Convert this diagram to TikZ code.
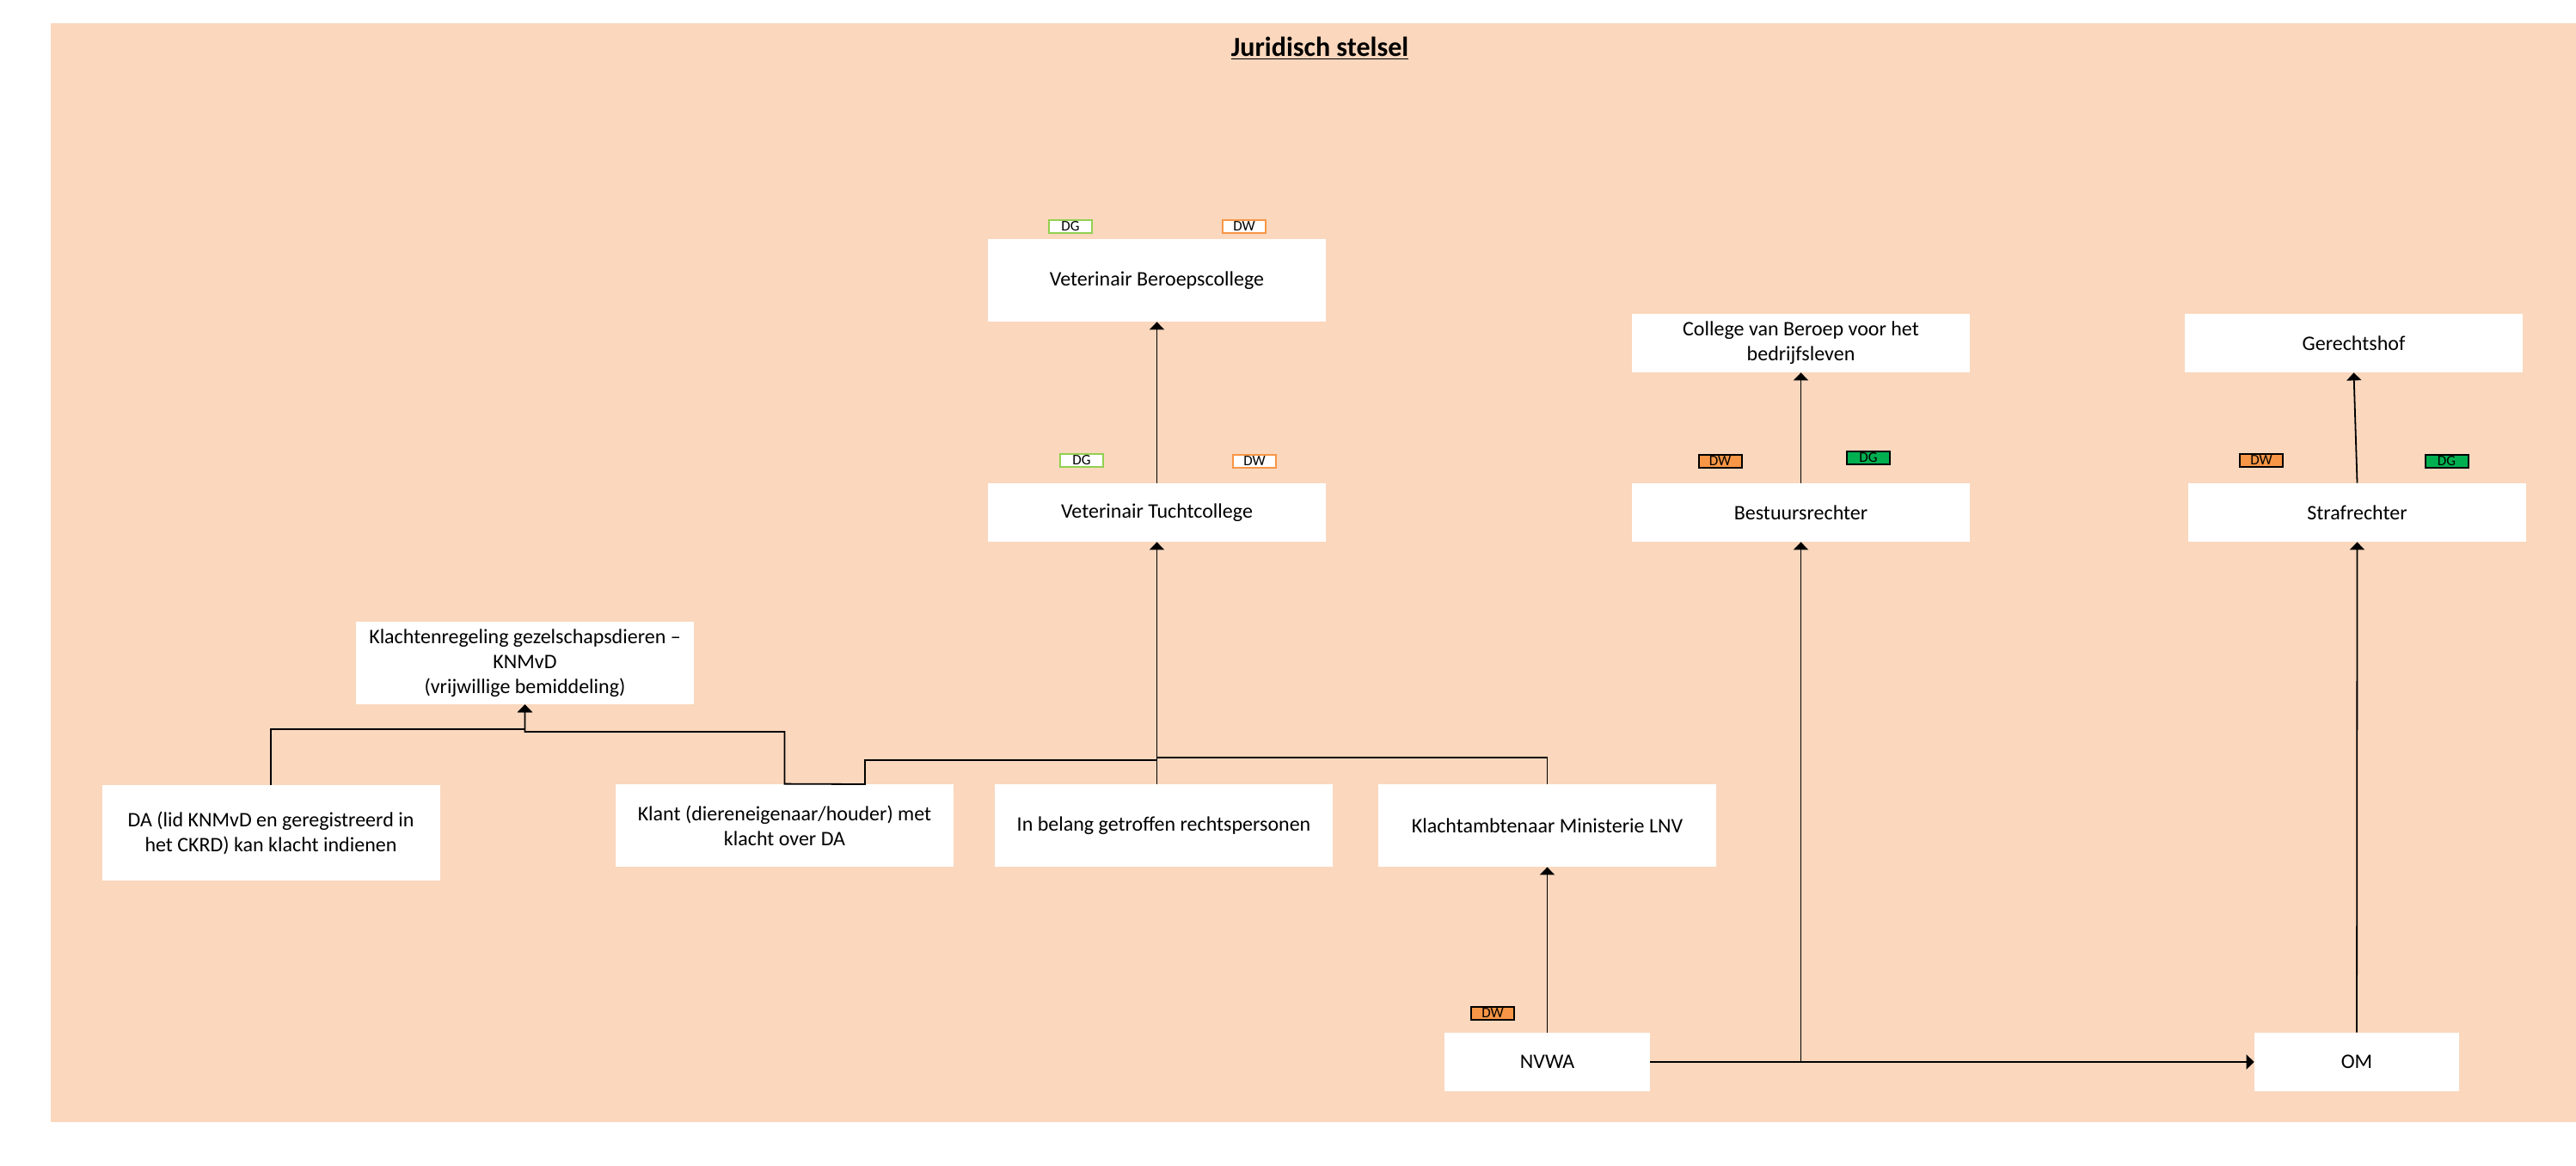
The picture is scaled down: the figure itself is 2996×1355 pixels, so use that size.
\documentclass[tikz,border=0pt]{standalone}
\usepackage{fontspec}
\setmainfont{Carlito}
\usetikzlibrary{arrows.meta}
\definecolor{bgc}{RGB}{250,215,189}
\definecolor{orng}{RGB}{247,150,70}
\definecolor{lgreen}{RGB}{146,208,80}
\definecolor{dgreen}{RGB}{0,176,80}
\begin{document}
\begin{tikzpicture}[x=0.5pt,y=-0.5pt,
  box/.style={fill=white, draw=none, inner sep=0pt, align=center, font=\fontsize{12}{14.5}\selectfont, minimum width=196.5pt},
  tag/.style={minimum width=25pt, minimum height=7.5pt, inner sep=0pt, font=\fontsize{8.5}{9}\selectfont, line width=1pt},
  tagDGo/.style={tag, fill=white, draw=lgreen},
  tagDWo/.style={tag, fill=white, draw=orng},
  tagDWf/.style={tag, fill=orng, draw=black},
  tagDGf/.style={tag, fill=dgreen, draw=black},
  arr/.style={-{Triangle[width=8.5pt,length=4.5pt]}, line width=0.9pt},
  conn/.style={line width=0.9pt}]
\useasboundingbox (0,0) rectangle (2996,1355);
\fill[bgc] (59,27) rectangle (2996,1305);
\node[anchor=base, font=\fontsize{16}{19}\selectfont\bfseries] (title) at (1535,65) {\underline{Juridisch stelsel}};

\node[box, minimum height=48pt] (beroeps) at (1345.5,326) {Veterinair Beroepscollege};
\node[box, minimum height=34pt] (tucht) at (1345.5,596) {Veterinair Tuchtcollege};
\node[box, minimum height=34pt] (cbb) at (2094.5,399) {College van Beroep voor het\\bedrijfsleven};
\node[box, minimum height=34pt] (hof) at (2737.5,399) {Gerechtshof};
\node[box, minimum height=34pt] (bestuurs) at (2094.5,596) {Bestuursrechter};
\node[box, minimum height=34pt] (straf) at (2741.5,596) {Strafrechter};
\node[box, minimum height=48pt] (klachtreg) at (610.5,771) {Klachtenregeling gezelschapsdieren –\\KNMvD\\(vrijwillige bemiddeling)};
\node[box, minimum height=55.5pt] (da) at (315,968.5) {DA (lid KNMvD en geregistreerd in\\het CKRD) kan klacht indienen};
\node[box, minimum height=48pt] (klant) at (912.5,960) {Klant (diereneigenaar/houder) met\\klacht over DA};
\node[box, minimum height=48pt] (belang) at (1353.5,960) {In belang getroffen rechtspersonen};
\node[box, minimum height=48pt] (klachtamb) at (1799.5,960) {Klachtambtenaar Ministerie LNV};
\node[box, minimum height=34pt, minimum width=119.5pt] (nvwa) at (1799.5,1235) {NVWA};
\node[box, minimum height=34pt, minimum width=119pt] (om) at (2741,1235) {OM};

\node[tagDGo] (dg1) at (1245,263) {DG};
\node[tagDWo] (dw1) at (1447,263) {DW};
\node[tagDGo] (dg2) at (1258,535.5) {DG};
\node[tagDWo] (dw2) at (1459,536.5) {DW};
\node[tagDWf] (dw3) at (2000.5,536) {DW};
\node[tagDGf] (dg3) at (2173,532.5) {DG};
\node[tagDWf] (dw4) at (2630,535.5) {DW};
\node[tagDGf] (dg4) at (2845.5,536) {DG};
\node[tagDWf] (dw5) at (1736,1178.5) {DW};

\draw[arr] (tucht.north) -- (beroeps.south);
\draw[arr] (bestuurs.north) -- (cbb.south);
\draw[arr] (straf.north) -- (hof.south);
\draw[arr] (om.north) -- (straf.south);
\draw[arr] (nvwa.north) -- (klachtamb.south);
\draw[arr, line width=1.4pt] (nvwa.east) -- (om.west);
\coordinate (jb) at (bestuurs.south |- nvwa.east);
\draw[arr] (jb) -- (bestuurs.south);
\coordinate (bt) at (tucht.south |- belang.north);
\draw[arr] (bt) -- (tucht.south);
\coordinate (j1) at (tucht.south |- 0,881);
\draw[conn] (klachtamb.north) |- (j1);
\coordinate (j2) at (tucht.south |- 0,884);
\draw[arr] (j2) -| (1006,912) -- (klant.north) |- (klachtreg.south |- 0,851) -- (klachtreg.south);
\draw[arr] (da.north) |- (klachtreg.south |- 0,848) -- (klachtreg.south);
\end{tikzpicture}
\end{document}
